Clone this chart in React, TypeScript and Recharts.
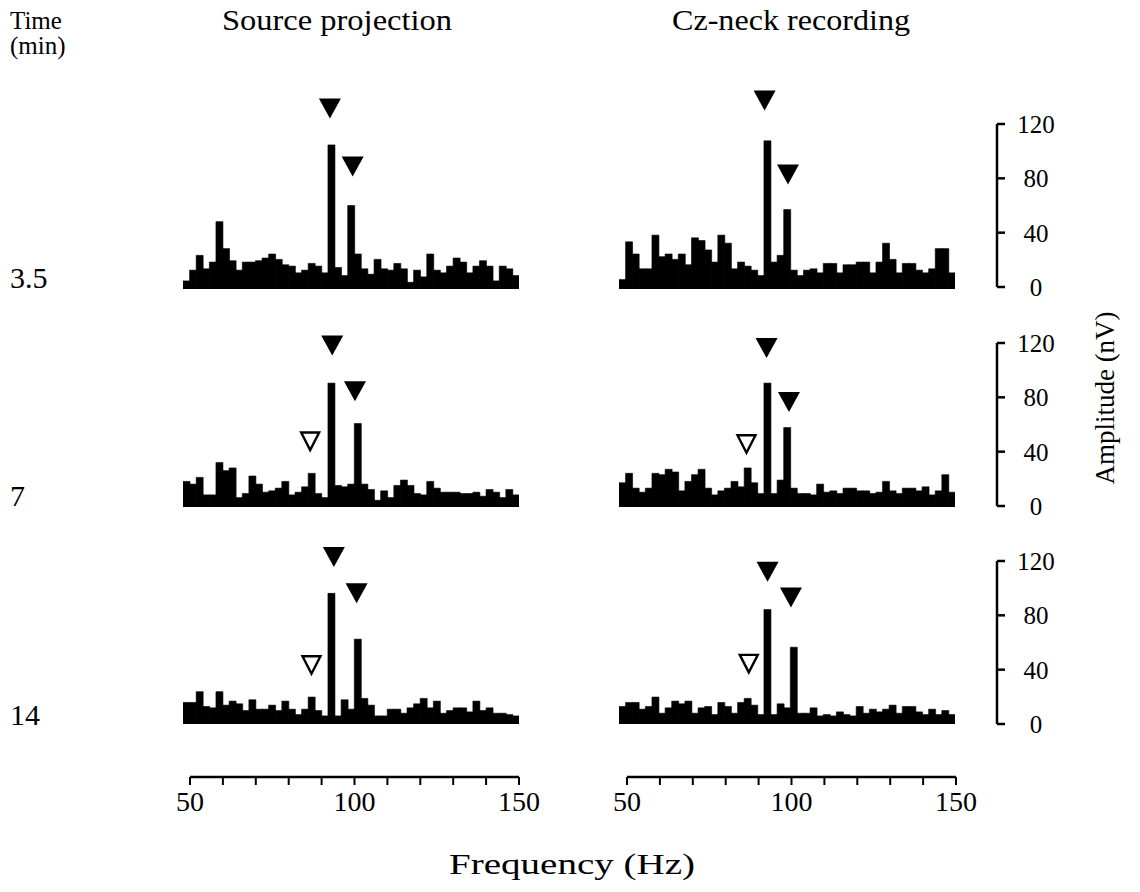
import React from 'react';
import { ComposedChart, Bar, Scatter, XAxis, YAxis } from 'recharts';

const FONT = '"Liberation Serif", "Times New Roman", serif';

// 2 Hz bins, bin centres
const freqs = [49, 51, 53, 55, 57, 59, 61, 63, 65, 67, 69, 71, 73, 75, 77, 79, 81, 83, 85, 87, 89, 91, 93, 95, 97, 99, 101, 103, 105, 107, 109, 111, 113, 115, 117, 119, 121, 123, 125, 127, 129, 131, 133, 135, 137, 139, 141, 143, 145, 147, 149];

// amplitudes (nV), source projection / Cz-neck, at 3.5, 7 and 14 min
const src35 = [6, 14, 25, 15, 20, 50, 30, 21, 14, 20, 20, 21, 23, 26, 22, 18, 17, 12, 14, 19, 17, 12, 107, 16, 10, 62, 26, 15, 11, 22, 15, 14, 19, 15, 5, 14, 9, 26, 14, 12, 17, 23, 20, 12, 17, 21, 17, 6, 17, 15, 10];
const cz35 = [7, 35, 26, 15, 15, 40, 24, 26, 22, 26, 18, 38, 36, 29, 20, 40, 34, 15, 20, 17, 14, 10, 110, 20, 25, 59, 14, 10, 14, 15, 12, 19, 19, 12, 18, 18, 20, 20, 12, 20, 34, 22, 12, 19, 19, 14, 12, 15, 30, 30, 12];
const src7 = [19, 17, 22, 9, 9, 33, 27, 29, 7, 10, 23, 17, 11, 12, 14, 19, 9, 11, 15, 25, 10, 7, 92, 16, 15, 17, 62, 17, 13, 5, 12, 7, 16, 20, 16, 10, 9, 19, 14, 11, 11, 11, 10, 10, 11, 8, 13, 11, 7, 13, 9];
const cz7 = [18, 25, 14, 11, 14, 25, 24, 28, 26, 12, 19, 24, 28, 14, 9, 12, 14, 19, 15, 29, 18, 10, 92, 10, 20, 59, 14, 10, 10, 9, 17, 11, 12, 10, 14, 14, 12, 12, 10, 11, 19, 12, 10, 14, 14, 12, 15, 9, 12, 24, 11];
const src14 = [16, 16, 24, 13, 12, 24, 14, 17, 15, 10, 18, 11, 11, 14, 10, 17, 11, 7, 11, 20, 10, 6, 97, 6, 18, 11, 63, 19, 14, 6, 6, 11, 11, 8, 12, 15, 19, 12, 17, 8, 10, 12, 12, 9, 17, 10, 12, 8, 8, 7, 6];
const cz14 = [13, 16, 16, 11, 13, 20, 8, 12, 17, 15, 17, 8, 12, 13, 7, 16, 13, 8, 16, 19, 14, 7, 85, 7, 15, 12, 57, 8, 8, 12, 6, 7, 6, 9, 7, 6, 13, 8, 11, 9, 11, 14, 8, 13, 13, 9, 7, 11, 7, 10, 7];

// arrow heads above the peaks (filled) and the open ones
const src35Marks = [{ freq: 92.6, amp: 134 }, { freq: 99.5, amp: 91 }];
const cz35Marks = [{ freq: 92.2, amp: 140 }, { freq: 99.3, amp: 85 }];
const src7Marks = [{ freq: 93.3, amp: 120 }, { freq: 100.2, amp: 86 }];
const cz7Marks = [{ freq: 92.8, amp: 118 }, { freq: 99.6, amp: 78 }];
const src14Marks = [{ freq: 93.8, amp: 124 }, { freq: 100.7, amp: 97 }];
const cz14Marks = [{ freq: 93.1, amp: 113 }, { freq: 100.2, amp: 94 }];
const src7Open = [{ freq: 86.6, amp: 49 }];
const cz7Open = [{ freq: 86.7, amp: 47 }];
const src14Open = [{ freq: 87, amp: 44 }];
const cz14Open = [{ freq: 87.4, amp: 45 }];

const timeLabels = ['3.5', '7', '14'];
const ampTicks = [0, 40, 80, 120];
const freqTicks = [50, 60, 70, 80, 90, 100, 110, 120, 130, 140, 150];
const freqLabels = [50, 100, 150];

const toRows = (vals: number[]) => freqs.map((f, i) => ({ freq: f, amp: vals[i] }));

const FilledTri = (props: any) => {
  const { cx, cy } = props;
  return <polygon points={`${cx - 11},${cy - 10} ${cx + 11},${cy - 10} ${cx},${cy + 10}`} fill="#000" />;
};

const OpenTri = (props: any) => {
  const { cx, cy } = props;
  return (
    <polygon
      points={`${cx - 9},${cy - 8.5} ${cx + 9},${cy - 8.5} ${cx},${cy + 9}`}
      fill="#fff"
      stroke="#000"
      strokeWidth={2.4}
    />
  );
};

const Panel = ({ vals, marks, open, left, top }: any) => (
  <div style={{ position: 'absolute', left, top }}>
    <ComposedChart
      width={336}
      height={202}
      data={toRows(vals)}
      barCategoryGap={0}
      barGap={0}
      margin={{ top: 0, right: 0, bottom: 0, left: 0 }}
    >
      <XAxis type="number" dataKey="freq" domain={[48, 150]} hide />
      <XAxis xAxisId="m" type="number" dataKey="freq" domain={[48, 150]} hide />
      <YAxis type="number" domain={[0, 150]} hide />
      <Bar dataKey="amp" fill="#000" stroke="#000" strokeWidth={0.6} isAnimationActive={false} />
      <Scatter xAxisId="m" data={marks} dataKey="amp" shape={FilledTri} isAnimationActive={false} />
      {open && <Scatter xAxisId="m" data={open} dataKey="amp" shape={OpenTri} isAnimationActive={false} />}
    </ComposedChart>
  </div>
);

const AmpTick = (props: any) => {
  const { x, y, payload } = props;
  return (
    <text x={x + 29} y={y + 9} textAnchor="middle" fontFamily={FONT} fontSize={25} fill="#000">
      {payload.value}
    </text>
  );
};

const AmpAxis = ({ vals, top }: any) => (
  <div style={{ position: 'absolute', left: 937, top }}>
    <ComposedChart width={130} height={193} data={toRows(vals)} margin={{ top: 15, right: 0, bottom: 15, left: 0 }}>
      <XAxis type="number" dataKey="freq" domain={[48, 150]} allowDataOverflow hide />
      <YAxis
        orientation="right"
        type="number"
        domain={[0, 120]}
        allowDataOverflow
        ticks={ampTicks}
        interval={0}
        width={70}
        tickSize={8}
        axisLine={{ stroke: '#000', strokeWidth: 2.5 }}
        tickLine={{ stroke: '#000', strokeWidth: 2.5 }}
        tick={<AmpTick />}
      />
    </ComposedChart>
  </div>
);

const FreqTick = (props: any) => {
  const { x, y, payload } = props;
  if (!freqLabels.includes(payload.value)) return null;
  return (
    <text x={x} y={y + 24} textAnchor="middle" fontFamily={FONT} fontSize={28} fill="#000">
      {payload.value}
    </text>
  );
};

const FreqAxis = ({ vals, left }: any) => (
  <div style={{ position: 'absolute', left, top: 762 }}>
    <ComposedChart width={389} height={75} data={toRows(vals)} margin={{ top: 10, right: 30, bottom: 0, left: 30 }}>
      <XAxis
        type="number"
        dataKey="freq"
        domain={[50, 150]}
        allowDataOverflow
        ticks={freqTicks}
        interval={0}
        height={60}
        tickSize={8}
        axisLine={{ stroke: '#000', strokeWidth: 2.5 }}
        tickLine={{ stroke: '#000', strokeWidth: 2 }}
        tick={<FreqTick />}
      />
      <YAxis hide domain={[0, 120]} allowDataOverflow />
    </ComposedChart>
  </div>
);

const rowTops = [87, 305, 522];
const axisTops = [109, 328, 546];
const rowBase = [288, 506, 725];

export default function App() {
  const txt = { fontFamily: FONT, fill: '#000' } as const;
  return (
    <div style={{ position: 'absolute', left: 0, top: 0, width: 1140, height: 892, background: '#fff', overflow: 'hidden' }}>
      <Panel vals={src35} marks={src35Marks} left={183} top={rowTops[0]} />
      <Panel vals={cz35} marks={cz35Marks} left={619} top={rowTops[0]} />
      <Panel vals={src7} marks={src7Marks} open={src7Open} left={183} top={rowTops[1]} />
      <Panel vals={cz7} marks={cz7Marks} open={cz7Open} left={619} top={rowTops[1]} />
      <Panel vals={src14} marks={src14Marks} open={src14Open} left={183} top={rowTops[2]} />
      <Panel vals={cz14} marks={cz14Marks} open={cz14Open} left={619} top={rowTops[2]} />

      <AmpAxis vals={cz35} top={axisTops[0]} />
      <AmpAxis vals={cz7} top={axisTops[1]} />
      <AmpAxis vals={cz14} top={axisTops[2]} />

      <FreqAxis vals={src14} left={160} />
      <FreqAxis vals={cz14} left={597} />

      <svg width={1140} height={892} style={{ position: 'absolute', left: 0, top: 0, pointerEvents: 'none' }}>
        <text x={10} y={29} fontSize={25} {...txt}>Time</text>
        <text x={10} y={54} fontSize={25} {...txt}>(min)</text>
        <text x={222} y={30} fontSize={29} textLength={230} lengthAdjust="spacingAndGlyphs" {...txt}>Source projection</text>
        <text x={672} y={30} fontSize={29} textLength={238} lengthAdjust="spacingAndGlyphs" {...txt}>Cz-neck recording</text>
        {timeLabels.map((t, i) => (
          <text key={t} x={10} y={rowBase[i]} fontSize={30} {...txt}>{t}</text>
        ))}
        <text x={0} y={0} textAnchor="middle" fontSize={27} transform="translate(1114,398) rotate(-90)" {...txt}>Amplitude (nV)</text>
        <text x={449} y={874} fontSize={29} textLength={246} lengthAdjust="spacingAndGlyphs" {...txt}>Frequency (Hz)</text>
      </svg>
    </div>
  );
}
